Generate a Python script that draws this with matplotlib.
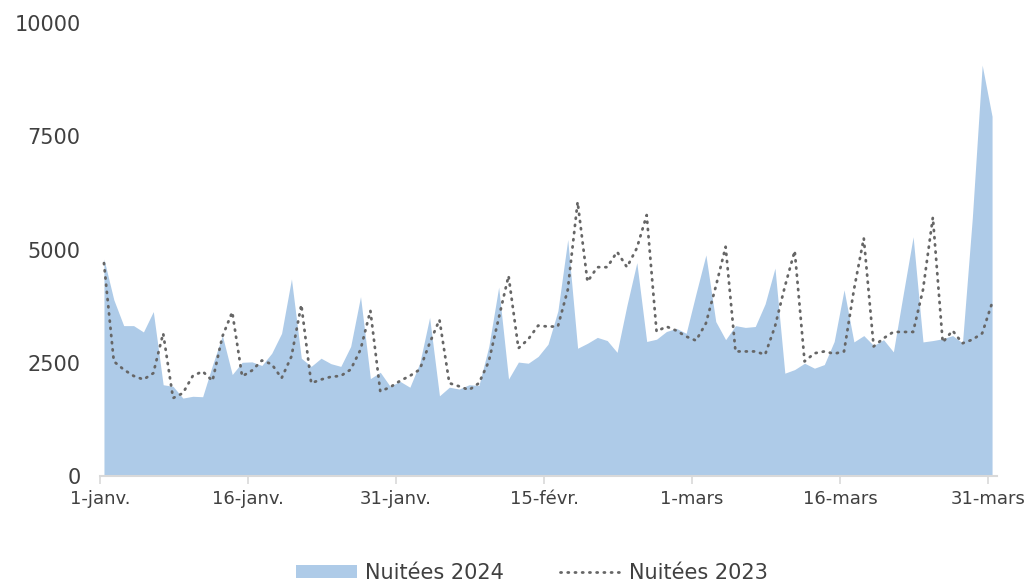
import matplotlib
matplotlib.use("Agg")
import matplotlib.pyplot as plt
import numpy as np

# daily values, 1 Jan -> 31 Mar (91 days)
nuitees_2024 = [
    4790, 3890, 3320, 3320, 3180, 3630, 2015, 1980, 1720, 1760,
    1750, 2450, 3100, 2240, 2510, 2520, 2440, 2710, 3150, 4350,
    2600, 2420, 2600, 2480, 2420, 2860, 3960, 2150, 2290, 1980,
    2090, 1960, 2490, 3500, 1770, 1960, 1920, 2015, 2000, 2860,
    4170, 2140, 2515, 2490, 2640, 2910, 3645, 5220, 2820, 2930,
    3060, 2990, 2730, 3770, 4710, 2970, 3020, 3190, 3260, 3150,
    4030, 4880, 3410, 3010, 3320, 3280, 3300, 3800, 4590, 2270,
    2350, 2490, 2380, 2460, 2970, 4110, 2960, 3100, 2880, 3010,
    2740, 4020, 5280, 2960, 2990, 3030, 3100, 2940, 5700, 9070,
    7940,
]
nuitees_2023 = [
    4700, 2530, 2350, 2210, 2130, 2270, 3150, 1720, 1830, 2210,
    2310, 2100, 3080, 3620, 2200, 2330, 2550, 2470, 2160, 2640,
    3780, 2050, 2130, 2190, 2210, 2350, 2790, 3650, 1870, 1960,
    2100, 2210, 2350, 2930, 3450, 2050, 1980, 1900, 2050, 2530,
    3480, 4420, 2820, 3020, 3320, 3300, 3300, 4110, 6050, 4290,
    4610, 4610, 4950, 4610, 5030, 5760, 3190, 3300, 3210, 3080,
    2990, 3370, 4180, 5060, 2750, 2750, 2750, 2680, 3300, 4180,
    4970, 2530, 2710, 2750, 2700, 2750, 4110, 5250, 2860, 3040,
    3180, 3180, 3180, 4110, 5710, 2950, 3210, 2930, 3010, 3150,
    3820,
]
tick_days = [0, 15, 30, 45, 60, 75, 90]
tick_labels = ["1-janv.", "16-janv.", "31-janv.", "15-févr.", "1-mars", "16-mars", "31-mars"]

days = np.arange(len(nuitees_2024))

fig = plt.figure(figsize=(10.29, 5.81), dpi=100)
ax = fig.add_axes([0.0972, 0.1807, 0.8717, 0.7797])

ax.fill_between(days, nuitees_2024, 0, color="#aecbe8", linewidth=0, label="Nuitées 2024")
ax.plot(days, nuitees_2023, color="#666666", linewidth=2.0,
        linestyle=(0, (0.4, 2.2)), dash_capstyle="round", label="Nuitées 2023")

ax.set_xlim(-0.4, 90.5)
ax.set_ylim(0, 10000)
ax.set_yticks([0, 2500, 5000, 7500, 10000])
# date axis ticks sit slightly left of the day's point, like the source chart
ax.set_xticks(np.array(tick_days) - 0.4)
ax.set_xticklabels(tick_labels)

for side in ["top", "right", "left"]:
    ax.spines[side].set_visible(False)
ax.spines["bottom"].set_color("#d9d9d9")
ax.spines["bottom"].set_linewidth(1.5)

ax.tick_params(axis="y", length=0, pad=14, labelsize=15, labelcolor="#404040")
ax.tick_params(axis="x", length=6, width=1.2, color="#d9d9d9", pad=4,
               labelsize=13, labelcolor="#404040")

fig.legend(loc="lower center", bbox_to_anchor=(0.517, -0.035), ncol=2, frameon=False,
           fontsize=15, handlelength=2.9, handleheight=0.6, columnspacing=2.7,
           handletextpad=0.4, labelcolor="#404040")

fig.savefig("out.png", dpi=100)
